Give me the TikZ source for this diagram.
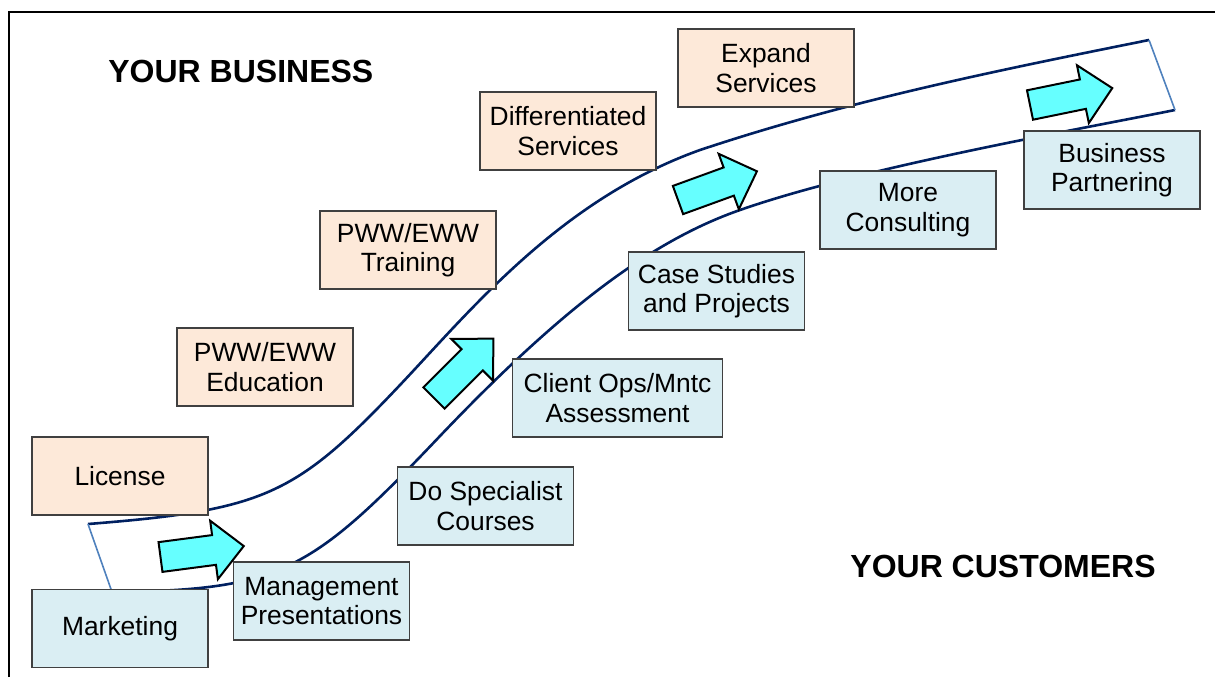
\documentclass[tikz,border=0pt]{standalone}
\usepackage{fontspec}
\setmainfont{Liberation Sans}
\usetikzlibrary{positioning}
\definecolor{peach}{RGB}{253,233,217}
\definecolor{paleblue}{RGB}{218,238,243}
\definecolor{aqua}{RGB}{102,255,255}
\definecolor{navy}{RGB}{0,32,96}
\definecolor{steel}{RGB}{79,129,189}
\tikzset{
  stagebox/.style={draw=black!75, line width=0.6pt, minimum width=88pt, minimum height=39pt,
    align=center, inner sep=2pt, font=\fontsize{13.2}{14.8}\selectfont},
  bizbox/.style={stagebox, fill=peach},
  custbox/.style={stagebox, fill=paleblue},
  headline/.style={font=\fontsize{16}{19}\selectfont\bfseries, inner sep=0pt, anchor=base west},
  road/.style={navy, line width=1.3pt},
  joint/.style={steel, line width=0.8pt},
  pics/fatarrow/.style={code={
    \draw[fill=aqua, line width=1pt, line join=miter]
      (0,-15) -- (54,-15) -- (54,-29.5) -- (84,0) -- (54,29.5) -- (54,15) -- (0,15) -- cycle;}}
}
\begin{document}
\begin{tikzpicture}[x=0.5pt,y=-0.5pt]
    \useasboundingbox (0,0) rectangle (1215,677);
    \draw[line width=1pt] (8.5,677) -- (8.5,11.5) -- (1215,11.5);

    % the road
    \coordinate (bizstart) at (88,524);
    \coordinate (bizend) at (1149,40);
    \coordinate (custstart) at (112,592);
    \coordinate (custend) at (1175,110);
    \draw[road] (bizstart) .. controls (264,510) and (295,496) .. (400,385)
      .. controls (470,311) and (560,200) .. (700,150)
      .. controls (850,100) and (1000,70) .. (bizend);
    \draw[road] (custstart) .. controls (280,590) and (310,573) .. (440,436)
      .. controls (561,309) and (651,241) .. (740,210)
      .. controls (860,168) and (1075,130) .. (custend);
    \draw[joint] (bizstart) -- (custstart);
    \draw[joint] (bizend) -- (custend);

    % business side
    \node[bizbox] (lic) at (120,476) {License};
    \node[bizbox] (edu) at (265,367) {PWW/EWW\\Education};
    \node[bizbox] (trn) at (408,250) {PWW/EWW\\Training};
    \node[bizbox] (dif) at (568,131) {Differentiated\\Services};
    \node[bizbox] (exp) at (766,68) {Expand\\Services};

    % customer side
    \node[custbox] (mkt) at (120,628.5) {Marketing};
    \node[custbox] (mgt) at (321.5,601) {Management\\Presentations};
    \node[custbox] (spc) at (485.5,506) {Do Specialist\\Courses};
    \node[custbox, minimum width=105pt] (ops) at (617.5,398) {Client Ops/Mntc\\Assessment};
    \node[custbox] (cse) at (716.5,291) {Case Studies\\and Projects};
    \node[custbox] (con) at (908,210) {More\\Consulting};
    \node[custbox] (prt) at (1112,170) {Business\\Partnering};

    % arrows along the road
    \pic[rotate=7.5] at (160.5,557) {fatarrow};
    \pic[rotate=45] at (434,398) {fatarrow};
    \pic[rotate=20] at (678,200) {fatarrow};
    \pic[rotate=11.6] at (1030,105) {fatarrow};

    \node[headline] (biz) at (108,82) {YOUR BUSINESS};
    \node[headline] (cust) at (850,577) {YOUR CUSTOMERS};
\end{tikzpicture}
\end{document}
